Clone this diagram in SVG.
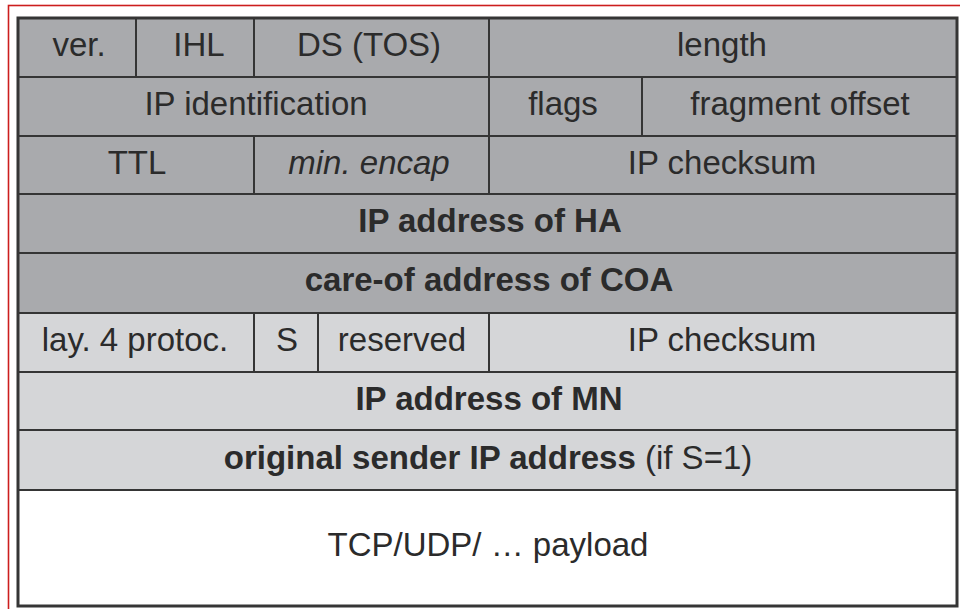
<svg xmlns="http://www.w3.org/2000/svg" width="960" height="609" viewBox="0 0 960 609">
  <style>
    .dark { fill: #a9aaad; }
    .light { fill: #d5d6d8; }
    .white { fill: #ffffff; }
    .cell { stroke: #353535; stroke-width: 2; }
    .lbl { font-family: "Liberation Sans", Arial, Helvetica, sans-serif; font-size: 33px; fill: #2b2b2b; text-anchor: middle; }
    .b { font-weight: bold; }
    .i { font-style: italic; }
  </style>

  <!-- page background and red frame -->
  <rect x="0" y="0" width="960" height="609" fill="#ffffff"/>
  <rect x="8.5" y="5.5" width="960" height="620" fill="none" stroke="#cc1e1e" stroke-width="1.6"/>

  <!-- row 1 -->
  <g id="ver"><rect class="cell dark" x="18" y="18" width="118" height="59"/><text class="lbl" x="79" y="56">ver.</text></g>
  <g id="ihl"><rect class="cell dark" x="136" y="18" width="118" height="59"/><text class="lbl" x="199" y="56">IHL</text></g>
  <g id="ds-tos"><rect class="cell dark" x="254" y="18" width="235" height="59"/><text class="lbl" x="369" y="56">DS (TOS)</text></g>
  <g id="length"><rect class="cell dark" x="489" y="18" width="468" height="59"/><text class="lbl" x="722" y="56">length</text></g>

  <!-- row 2 -->
  <g id="ip-identification"><rect class="cell dark" x="18" y="77" width="471" height="59"/><text class="lbl" x="256" y="115">IP identification</text></g>
  <g id="flags"><rect class="cell dark" x="489" y="77" width="153" height="59"/><text class="lbl" x="563" y="115">flags</text></g>
  <g id="fragment-offset"><rect class="cell dark" x="642" y="77" width="315" height="59"/><text class="lbl" x="800" y="115">fragment offset</text></g>

  <!-- row 3 -->
  <g id="ttl"><rect class="cell dark" x="18" y="136" width="236" height="58"/><text class="lbl" x="137" y="173.5">TTL</text></g>
  <g id="min-encap"><rect class="cell dark" x="254" y="136" width="235" height="58"/><text class="lbl i" x="369" y="173.5">min. encap</text></g>
  <g id="ip-checksum-1"><rect class="cell dark" x="489" y="136" width="468" height="58"/><text class="lbl" x="722" y="173.5">IP checksum</text></g>

  <!-- rows 4 and 5 -->
  <g id="ip-address-ha"><rect class="cell dark" x="18" y="194" width="939" height="59"/><text class="lbl b" x="490" y="231.5">IP address of HA</text></g>
  <g id="care-of-address"><rect class="cell dark" x="18" y="253" width="939" height="60"/><text class="lbl b" x="489" y="291">care-of address of COA</text></g>

  <!-- row 6 -->
  <g id="layer4-protocol"><rect class="cell light" x="18" y="313" width="236" height="59"/><text class="lbl" x="135" y="351">lay. 4 protoc.</text></g>
  <g id="s-flag"><rect class="cell light" x="254" y="313" width="64" height="59"/><text class="lbl" x="287" y="351">S</text></g>
  <g id="reserved"><rect class="cell light" x="318" y="313" width="171" height="59"/><text class="lbl" x="402" y="351">reserved</text></g>
  <g id="ip-checksum-2"><rect class="cell light" x="489" y="313" width="468" height="59"/><text class="lbl" x="722" y="351">IP checksum</text></g>

  <!-- rows 7 and 8 -->
  <g id="ip-address-mn"><rect class="cell light" x="18" y="372" width="939" height="58"/><text class="lbl b" x="489" y="409.5">IP address of MN</text></g>
  <g id="original-sender"><rect class="cell light" x="18" y="430" width="939" height="60"/><text class="lbl" x="488" y="468.5"><tspan class="b">original sender IP address</tspan> (if S=1)</text></g>

  <!-- payload -->
  <g id="payload"><rect class="cell white" x="18" y="490" width="939" height="116"/><text class="lbl" x="488" y="556">TCP/UDP/ … payload</text></g>

  <!-- outer table border -->
  <rect x="18" y="18" width="939" height="588" fill="none" stroke="#353535" stroke-width="3"/>
</svg>
